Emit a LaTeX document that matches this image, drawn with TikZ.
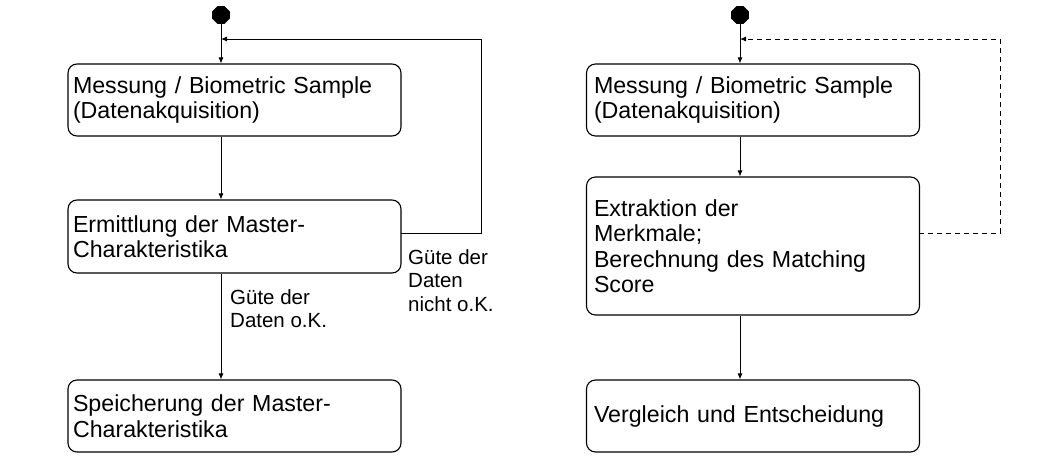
\documentclass[tikz,border=0pt]{standalone}
\usepackage{fontspec}
\setmainfont{Liberation Sans}
\usetikzlibrary{arrows.meta,shapes.geometric}
\begin{document}
\begin{tikzpicture}[x=1pt,y=-1pt,
  box/.style={draw, rounded corners=9pt, line width=1.1pt, minimum width=333pt, align=left,
    font=\fontsize{23.2}{25.5}\selectfont, inner ysep=0pt},
  lbox/.style={box, text width=323pt, inner xsep=5pt},
  rbox/.style={box, text width=318pt, inner xsep=7.5pt},
  startdot/.style={regular polygon, regular polygon sides=8, fill=black, minimum size=19pt, inner sep=0pt},
  lab/.style={font=\fontsize{20.5}{23.5}\selectfont, align=left, anchor=north west, inner sep=0pt},
  conn/.style={line width=0.9pt, -{Latex[length=6pt,width=5pt]}},
  dconn/.style={conn, dash pattern=on 5pt off 4pt}
]
\useasboundingbox (0,0) rectangle (1050,472);
% left column
\node[startdot] (ls) at (221,15) {};
\node[lbox, minimum height=72pt] (l1) at (234.5,100) {Messung / Biometric Sample\\(Datenakquisition)};
\node[lbox, minimum height=73pt] (l2) at (234.5,236.5) {Ermittlung der Master-\\Charakteristika};
\node[lbox, minimum height=72pt] (l3) at (234.5,416) {Speicherung der Master-\\Charakteristika};
\coordinate (lm) at (221,39);
\coordinate (lr) at (481,39);
\coordinate (l2e) at (401,233);
\draw[conn] (ls) -- (l1.north -| ls);
\draw[conn] (l1.south -| ls) -- (l2.north -| ls);
\draw[conn] (l2.south -| ls) -- (l3.north -| ls);
\draw[conn] (l2e) -| (lr) -- (lm);
\node[lab] (lg1) at (408,249) {Güte der\\Daten\\nicht o.K.};
\node[lab] (lg2) at (230,289) {Güte der\\Daten o.K.};
% right column
\node[startdot] (rs) at (740,15) {};
\node[rbox, minimum height=72pt] (r1) at (753,100) {Messung / Biometric Sample\\(Datenakquisition)};
\node[rbox, minimum height=138pt] (r2) at (753,246) {Extraktion der\\Merkmale;\\Berechnung des Matching\\Score};
\node[rbox, minimum height=72pt] (r3) at (753,416) {Vergleich und Entscheidung};
\coordinate (rm) at (740,39);
\coordinate (rr) at (1000,39);
\coordinate (r2e) at (919,233);
\draw[conn] (rs) -- (r1.north -| rs);
\draw[conn] (r1.south -| rs) -- (r2.north -| rs);
\draw[conn] (r2.south -| rs) -- (r3.north -| rs);
\draw[dconn] (r2e) -| (rr) -- (rm);
\end{tikzpicture}
\end{document}
